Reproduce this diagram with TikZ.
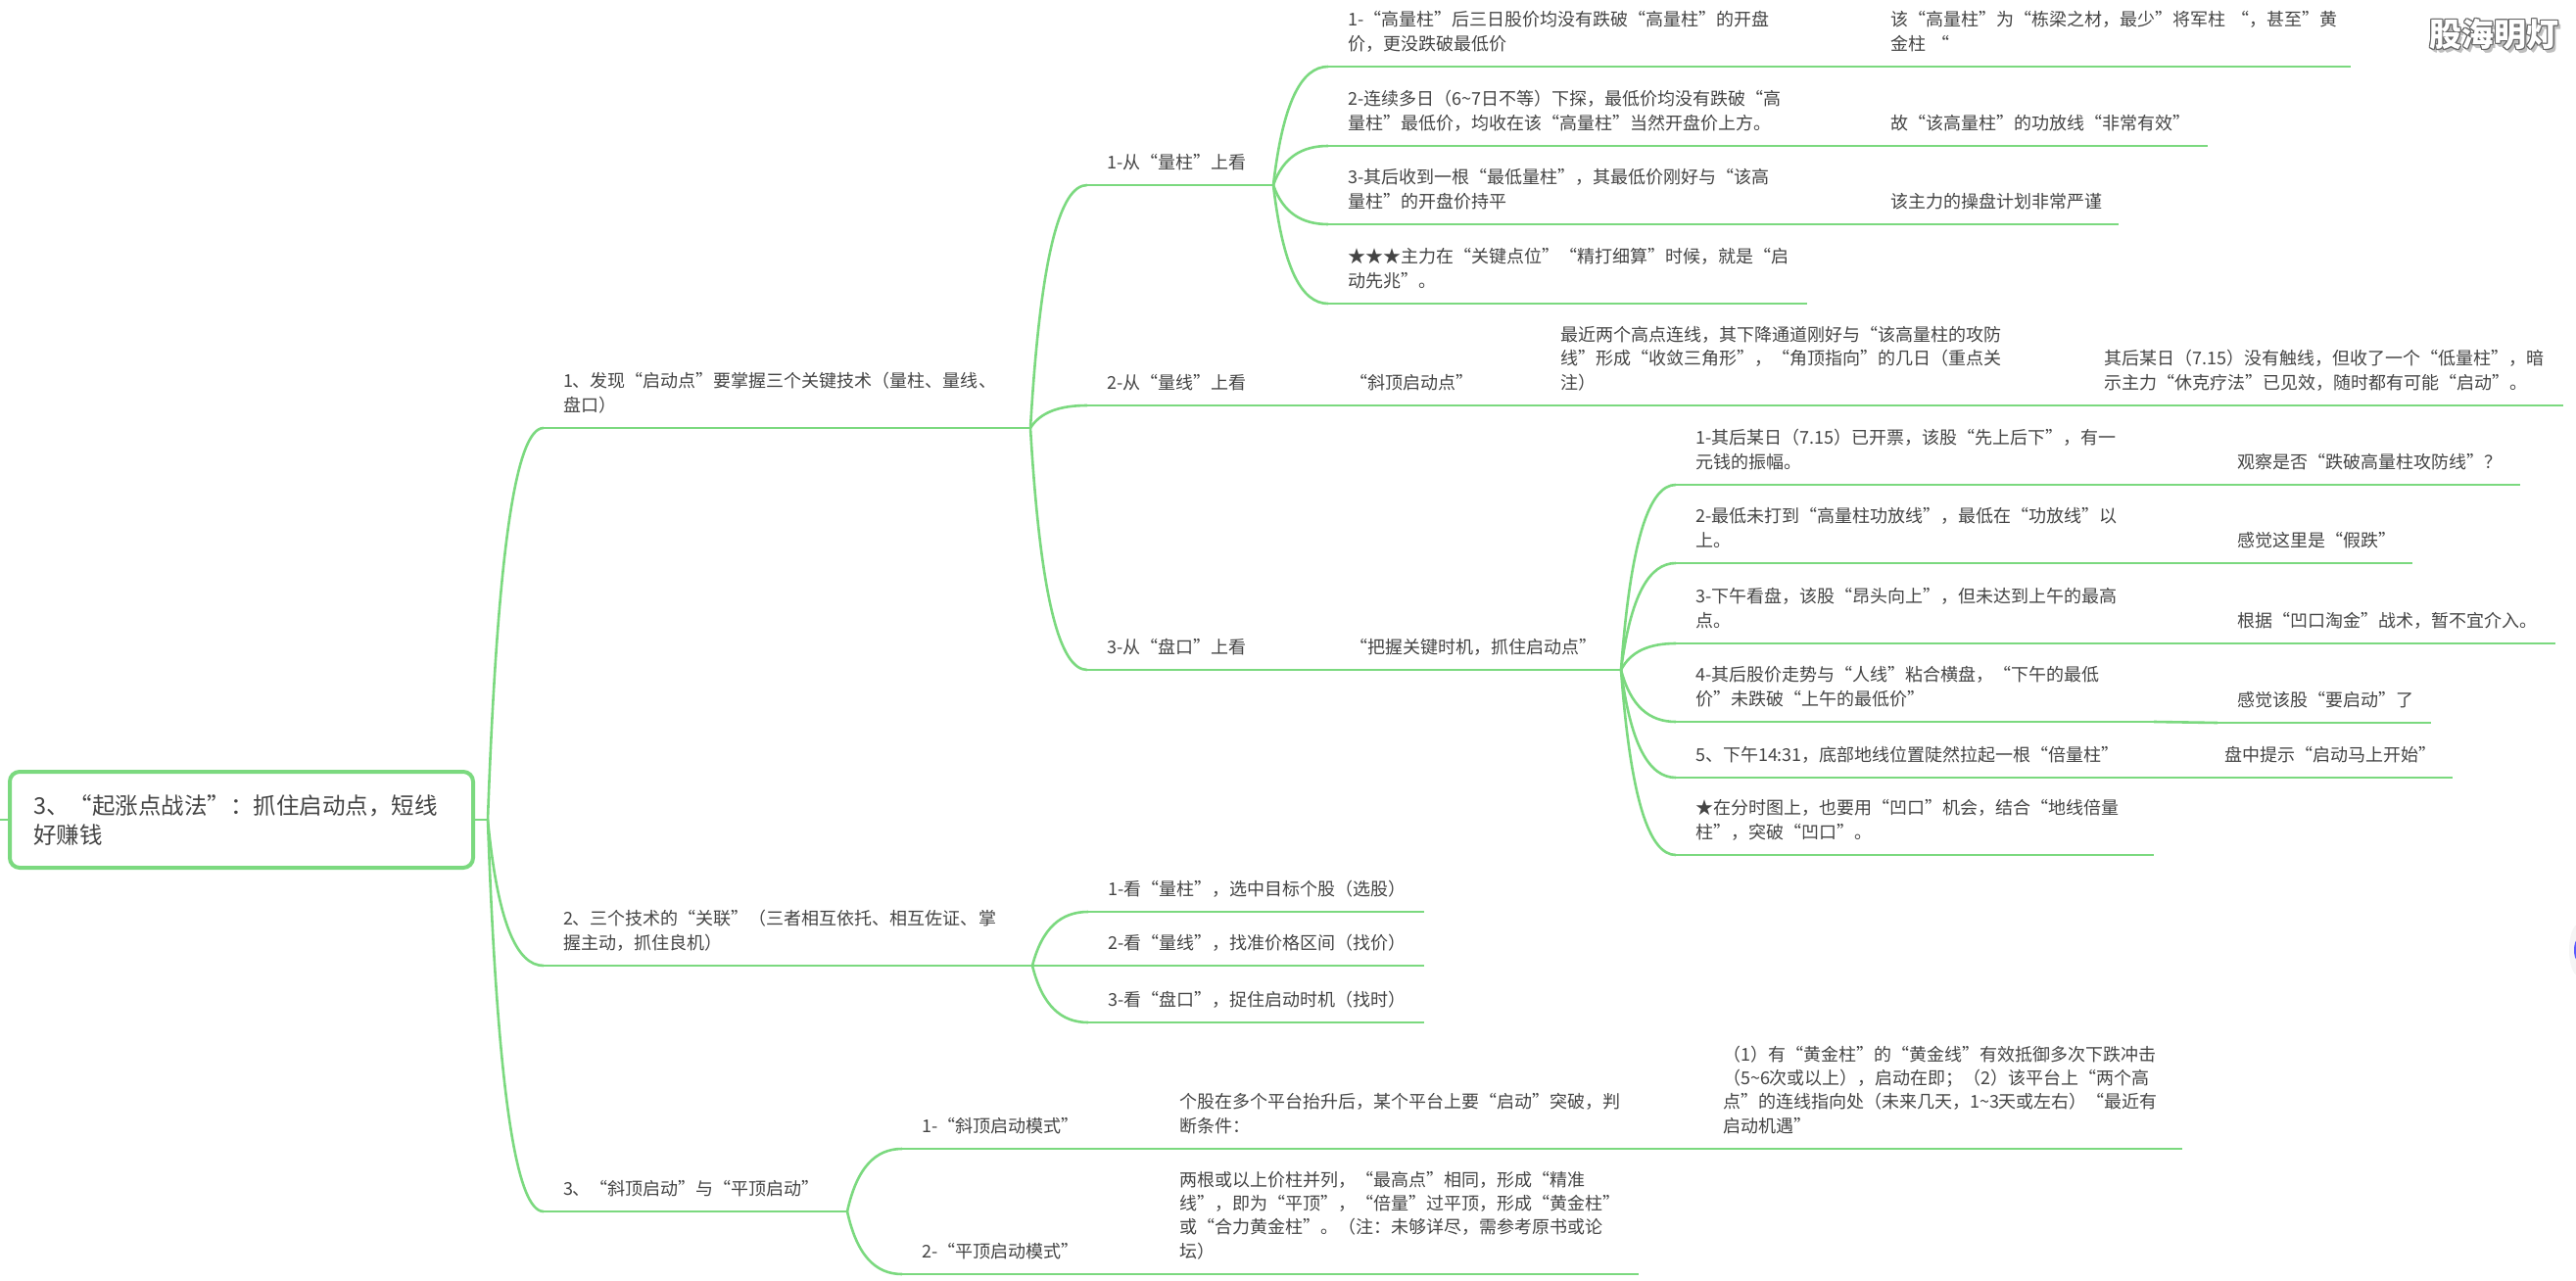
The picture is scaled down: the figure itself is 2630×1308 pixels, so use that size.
\documentclass[tikz,border=0pt]{standalone}
\usepackage{fontspec}
\setmainfont{Noto Sans CJK SC}
\usetikzlibrary{positioning}
\usetikzlibrary{calc}
\definecolor{mapgreen}{HTML}{7BD97F}
\definecolor{mapink}{HTML}{444444}
\exhyphenpenalty=10000
\tikzset{
    link/.style={draw=mapgreen, line width=2.6pt},
    twig/.style={to path={.. controls ($(\tikztostart)!0.7!($(\tikztostart |- \tikztotarget)!0.25!(\tikztotarget)$)$) and ($(\tikztotarget)!0.65!($(\tikztostart |- \tikztotarget)!0.25!(\tikztotarget)$)$) .. (\tikztotarget)}},
    topic/.style={anchor=south west, inner xsep=20pt, inner ysep=9.7pt, outer sep=0pt, align=left, text=mapink,
        text width=#1pt-40pt, font=\fontsize{18}{24.3}\selectfont, execute at end node=\strut,
        append after command={(\tikzlastnode.south west) edge[link] (\tikzlastnode.south east)}},
    rootbox/.style={draw=mapgreen, line width=4pt, rounded corners=10pt, outer sep=0pt, align=left, text=mapink,
        minimum width=473pt, minimum height=98pt, inner xsep=24pt, text width=425pt,
        font=\fontsize{23.5}{30}\selectfont},
}
\begin{document}
\begin{tikzpicture}[x=1pt, y=-1pt]
    \useasboundingbox (0,0) rectangle (2630,1308);

    % Central topic and the three main branches
    \node (root) [rootbox] at (246.5, 837) {3、“起涨点战法”：抓住启动点，短线\\好赚钱};
    \coordinate (rootin) at (0, 837);
    \coordinate (rootout) at (498, 837);
    \node (find) [topic=497] at (555, 437) {1、发现“启动点”要掌握三个关键技术（量柱、量线、\\盘口）};
    \node (tie) [topic=499] at (555, 986) {2、三个技术的“关联”（三者相互依托、相互佐证、掌\\握主动，抓住良机）};
    \node (mode) [topic=310] at (555, 1237) {3、“斜顶启动”与“平顶启动”};

    % Branch one
    \node (bar) [topic=190] at (1110, 189) {1-从“量柱”上看};
    \node (line) [topic=178] at (1110, 414) {2-从“量线”上看};
    \node (tape) [topic=178] at (1110, 684) {3-从“盘口”上看};

    \node (barA) [topic=489] at (1356, 68) {1-“高量柱”后三日股价均没有跌破“高量柱”的开盘\\价，更没跌破最低价};
    \node (barB) [topic=489] at (1356, 149) {2-连续多日（6{\textasciitilde}7日不等）下探，最低价均没有跌破“高\\量柱”最低价，均收在该“高量柱”当然开盘价上方。};
    \node (barC) [topic=489] at (1356, 229) {3-其后收到一根“最低量柱”，其最低价刚好与“该高\\量柱”的开盘价持平};
    \node (barD) [topic=489] at (1356, 310) {★★★主力在“关键点位”“精打细算”时候，就是“启\\动先兆”。};
    \node (noteA) [topic=490] at (1910, 68) {该“高量柱”为“栋梁之材，最少”将军柱~“，甚至”黄\\金柱~“};
    \node (noteB) [topic=344] at (1910, 149) {故“该高量柱”的功放线“非常有效”};
    \node (noteC) [topic=253] at (1910, 229) {该主力的操盘计划非常严谨};

    \node (lineA) [topic=140] at (1358, 414) {“斜顶启动点”};
    \node (lineB) [topic=467] at (1573, 414) {最近两个高点连线，其下降通道刚好与“该高量柱的攻防\\线”形成“收敛三角形”，“角顶指向”的几日（重点关\\注）};
    \node (lineC) [topic=489] at (2128, 414) {其后某日（7.15）没有触线，但收了一个“低量柱”，暗\\示主力“休克疗法”已见效，随时都有可能“启动”。};

    \node (grab) [topic=297] at (1358, 684) {“把握关键时机，抓住启动点”};
    \node (tapeA) [topic=488] at (1711, 495) {1-其后某日（7.15）已开票，该股“先上后下”，有一\\元钱的振幅。};
    \node (tapeB) [topic=488] at (1711, 575) {2-最低未打到“高量柱功放线”，最低在“功放线”以\\上。};
    \node (tapeC) [topic=488] at (1711, 657) {3-下午看盘，该股“昂头向上”，但未达到上午的最高\\点。};
    \node (tapeD) [topic=488] at (1711, 737) {4-其后股价走势与“人线”粘合横盘，“下午的最低\\价”未跌破“上午的最低价”};
    \node (tapeE) [topic=471] at (1711, 794) {5、下午14:31，底部地线位置陡然拉起一根“倍量柱”};
    \node (tapeF) [topic=488] at (1711, 873) {★在分时图上，也要用“凹口”机会，结合“地线倍量\\柱”，突破“凹口”。};
    \node (seeA) [topic=309] at (2264, 495) {观察是否“跌破高量柱攻防线”？};
    \node (seeB) [topic=199] at (2264, 575) {感觉这里是“假跌”};
    \node (seeC) [topic=345] at (2264, 657) {根据“凹口淘金”战术，暂不宜介入。};
    \node (seeD) [topic=218] at (2264, 738) {感觉该股“要启动”了};
    \node (seeE) [topic=253] at (2251, 794) {盘中提示“启动马上开始”};

    % Branch two
    \node (tieA) [topic=343] at (1111, 931) {1-看“量柱”，选中目标个股（选股）};
    \node (tieB) [topic=343] at (1111, 986) {2-看“量线”，找准价格区间（找价）};
    \node (tieC) [topic=343] at (1111, 1044) {3-看“盘口”，捉住启动时机（找时）};

    % Branch three
    \node (slant) [topic=196] at (921, 1173) {1-“斜顶启动模式”};
    \node (flat) [topic=196] at (921, 1301) {2-“平顶启动模式”};
    \node (slantA) [topic=424] at (1184, 1173) {个股在多个平台抬升后，某个平台上要“启动”突破，判\\断条件：};
    \node (slantB) [topic=489] at (1739, 1173) {（1）有“黄金柱”的“黄金线”有效抵御多次下跌冲击\\（5{\textasciitilde}6次或以上），启动在即；（2）该平台上“两个高\\点”的连线指向处（未来几天，1{\textasciitilde}3天或左右）“最近有\\启动机遇”};
    \node (flatA) [topic=489] at (1184, 1301) {两根或以上价柱并列，“最高点”相同，形成“精准\\线”，即为“平顶”，“倍量”过平顶，形成“黄金柱”\\或“合力黄金柱”。（注：未够详尽，需参考原书或论\\坛）};

    % Connectors
    \draw[link] (rootin) -- (root.west);
    \draw[link] (root.east) -- (rootout);
    \foreach \kid in {find, tie, mode}
        \draw[link] (rootout) to[twig] (\kid.south west);
    \foreach \kid in {bar, line, tape}
        \draw[link] (find.south east) to[twig] (\kid.south west);
    \foreach \kid in {barA, barB, barC, barD}
        \draw[link] (bar.south east) to[twig] (\kid.south west);
    \foreach \kid in {tapeA, tapeB, tapeC, tapeD, tapeE, tapeF}
        \draw[link] (grab.south east) to[twig] (\kid.south west);
    \foreach \kid in {tieA, tieB, tieC}
        \draw[link] (tie.south east) to[twig] (\kid.south west);
    \foreach \kid in {slant, flat}
        \draw[link] (mode.south east) to[twig] (\kid.south west);
    \foreach \from/\to in {barA/noteA, barB/noteB, barC/noteC, line/lineA, lineA/lineB, lineB/lineC, tape/grab,
        tapeA/seeA, tapeB/seeB, tapeC/seeC, tapeD/seeD, tapeE/seeE, slant/slantA, slantA/slantB, flat/flatA}
        \draw[link] (\from.south east) -- (\to.south west);

    % Stamp in the corner
    \foreach \dx/\dy in {2/3, 3/4, 1/2}
        \node[text=black!25, font=\fontsize{33}{33}\bfseries] at (2546.5+\dx, 35+\dy) {股海明灯};
    \foreach \dx/\dy in {-1/0, 1/0, 0/-1, 0/1, -1/-1, 1/1, -1/1, 1/-1}
        \node[text=black!60, font=\fontsize{33}{33}\bfseries] at (2546.5+\dx, 35+\dy) {股海明灯};
    \node (stamp) [text=white, font=\fontsize{33}{33}\bfseries] at (2546.5, 35) {股海明灯};

    % Edge of the floating button
    \fill[black!4] (2632, 970) ellipse (9 and 26);
    \fill[blue!65] (2631, 970) ellipse (3 and 10);
\end{tikzpicture}
\end{document}
